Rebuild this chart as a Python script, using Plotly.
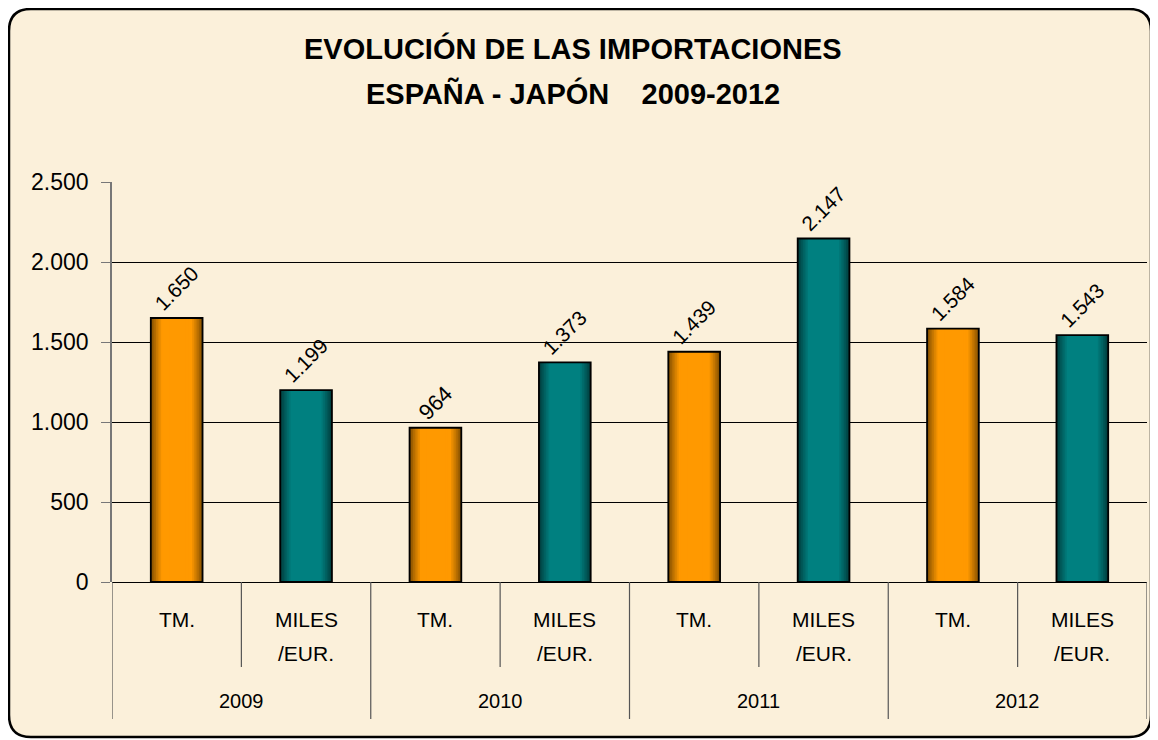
import plotly.graph_objects as go

# ---------------- data ----------------
years = ["2009", "2010", "2011", "2012"]
unit_labels = [["TM."], ["MILES", "/EUR."]]
tm = [1650, 964, 1439, 1584]
miles_eur = [1199, 1373, 2147, 1543]
y_ticks = [0, 500, 1000, 1500, 2000, 2500]
title_lines = ["EVOLUCIÓN DE LAS IMPORTACIONES",
               "ESPAÑA - JAPÓN\u00a0\u00a0\u00a0\u00a02009-2012"]

# ---------------- layout geometry (window pixels) ----------------
WIN_W, WIN_H = 1158, 740
OFF = 8  # default page body margin
L, R, T, B = 112, 1147, 182, 582
FONT = "Arial, Liberation Sans, sans-serif"

def px(x):
    return (x - L) / (R - L)

def py(y):
    return (B - y) / (B - T)

# interleave series
values = []
kinds = []
for a, b in zip(tm, miles_eur):
    values += [a, b]
    kinds += [0, 1]
xs = list(range(len(values)))

dark = [(0x66, 0x3E, 0x00), (0x00, 0x2C, 0x2C)]
bright = [(0xFF, 0x99, 0x00), (0x00, 0x80, 0x80)]

def mix(c1, c2, t):
    return "rgb(%d,%d,%d)" % tuple(round(a + (b - a) * t) for a, b in zip(c1, c2))

fig = go.Figure()
K = 12
BW = 0.4
for k in range(K):
    w = BW * (1 - k / K * 0.8)
    t = min(1.0, (k + 1) / 7) ** 0.8
    cols = [mix(dark[kd], bright[kd], t) for kd in kinds]
    fig.add_trace(go.Bar(x=xs, y=values, width=w, marker=dict(color=cols, line=dict(width=0)),
                         hoverinfo="skip", showlegend=False))

fig.add_trace(go.Bar(
    x=xs, y=values, width=BW,
    marker=dict(color="rgba(0,0,0,0)", line=dict(color="#000000", width=1.8)),
    text=values, texttemplate="%{y:,}", textposition="outside", textangle=-45,
    textfont=dict(family=FONT, size=22, color="#000000"),
    cliponaxis=False, showlegend=False))

shapes = []
# rounded border
x0, y0, x1, y1, r = 9, 9, 1151, 737, 22
path = (f"M {px(x0 + r)},{py(y0)} L {px(x1 - r)},{py(y0)} "
        f"Q {px(x1)},{py(y0)} {px(x1)},{py(y0 + r)} "
        f"L {px(x1)},{py(y1 - r)} Q {px(x1)},{py(y1)} {px(x1 - r)},{py(y1)} "
        f"L {px(x0 + r)},{py(y1)} Q {px(x0)},{py(y1)} {px(x0)},{py(y1 - r)} "
        f"L {px(x0)},{py(y0 + r)} Q {px(x0)},{py(y0)} {px(x0 + r)},{py(y0)} Z")
shapes.append(dict(type="path", xref="paper", yref="paper", path=path,
                   fillcolor="#FBF0DA", line=dict(color="#000000", width=2.5), layer="below"))

# category dividers
for i in range(len(values) + 1):
    outer = (i % 2 == 0)
    yb = 719 if outer else 667
    shapes.append(dict(type="line", xref="x", yref="paper", x0=i - 0.5, x1=i - 0.5,
                       y0=0, y1=py(yb), line=dict(color="#555555", width=1.2)))

annotations = []
for li, (line, yc) in enumerate(zip(title_lines, [48, 93])):
    annotations.append(dict(text="<b>" + line + "</b>", xref="paper", yref="paper",
                            x=px(573), y=py(yc), xanchor="center", yanchor="middle",
                            showarrow=False, font=dict(family=FONT, size=29, color="#000000")))
for i, kd in enumerate(kinds):
    for j, ln in enumerate(unit_labels[kd]):
        annotations.append(dict(text=ln, xref="x", yref="paper", x=xs[i], y=py(619 + 34 * j),
                                xanchor="center", yanchor="middle", showarrow=False,
                                font=dict(family=FONT, size=21, color="#000000")))
for gi, yr in enumerate(years):
    annotations.append(dict(text=yr, xref="x", yref="paper", x=2 * gi + 0.5, y=py(701),
                            xanchor="center", yanchor="middle", showarrow=False,
                            font=dict(family=FONT, size=20, color="#000000")))

fig.update_layout(
    width=WIN_W - OFF, height=WIN_H - OFF, autosize=False,
    margin=dict(l=L - OFF, r=WIN_W - R, t=T - OFF, b=WIN_H - B, pad=0),
    paper_bgcolor="#FFFFFF", plot_bgcolor="rgba(0,0,0,0)",
    barmode="overlay", separators=",.",
    font=dict(family=FONT, color="#000000"),
    shapes=shapes, annotations=annotations,
    xaxis=dict(range=[-0.5, len(values) - 0.5], showticklabels=False, showgrid=False,
               zeroline=False, showline=False, ticks=""),
    yaxis=dict(range=[0, 2500], tickvals=y_ticks, tickformat=",", showgrid=True,
               gridcolor="#000000", gridwidth=1, zeroline=True, zerolinecolor="#000000",
               zerolinewidth=1, showline=True, linecolor="#777777", linewidth=1.5,
               ticks="outside", ticklen=9, tickcolor="#777777", tickwidth=1.2,
               ticklabelstandoff=8, tickfont=dict(family=FONT, size=23, color="#000000")),
)

fig.write_html("out.html")
